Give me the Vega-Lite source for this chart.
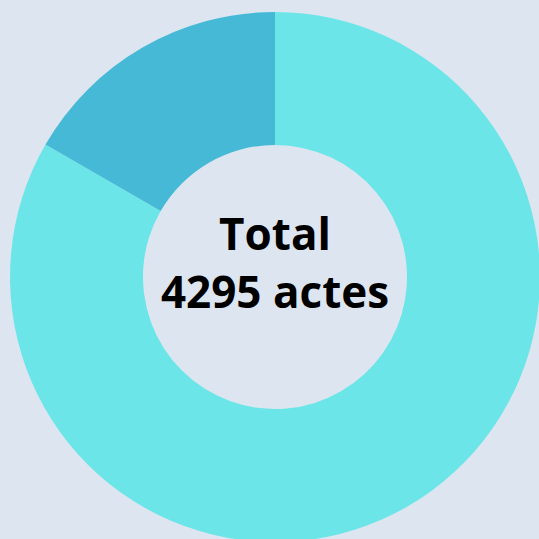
{
  "$schema": "https://vega.github.io/schema/vega-lite/v6.json",
  "width": 550,
  "height": 554,
  "autosize": {"type": "none"},
  "padding": 0,
  "background": "#DDE6F0",
  "config": {"view": {"stroke": null}},
  "layer": [
    {
      "data": {"values": [
        {"categorie": "A", "actes": 3579, "ordre": 1},
        {"categorie": "B", "actes": 716, "ordre": 2}
      ]},
      "mark": {"type": "arc", "outerRadius": 265, "innerRadius": 132},
      "encoding": {
        "theta": {"field": "actes", "type": "quantitative", "stack": true},
        "order": {"field": "ordre", "type": "quantitative"},
        "color": {
          "field": "categorie", "type": "nominal",
          "scale": {"domain": ["A", "B"], "range": ["#6BE5E8", "#45B9D5"]},
          "legend": null
        }
      }
    },
    {
      "data": {"values": [{"texte": "Total\n4295 actes"}]},
      "mark": {
        "type": "text", "font": "Open Sans", "fontWeight": "bold", "fontSize": 44,
        "lineBreak": "\n", "lineHeight": 58, "align": "center", "baseline": "middle",
        "dy": -40, "color": "#000000"
      },
      "encoding": {"text": {"field": "texte", "type": "nominal"}}
    }
  ]
}
